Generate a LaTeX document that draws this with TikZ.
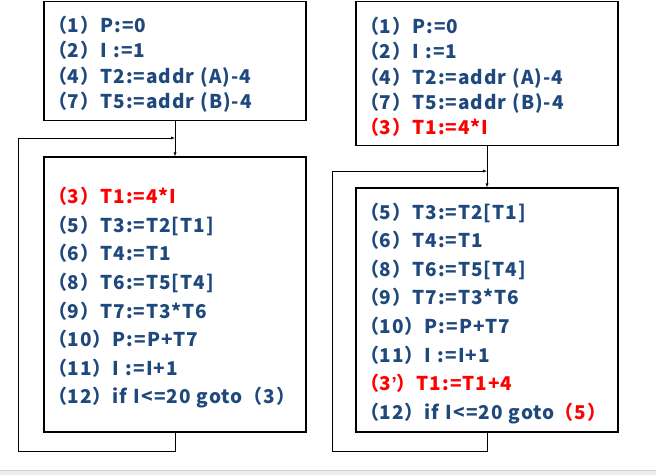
\documentclass[tikz,border=0pt]{standalone}
\usepackage{fontspec}
\usepackage{xcolor}
\newfontfamily\cjk{Noto Sans CJK SC}[LetterSpace=5]
\newfontfamily\latin{Liberation Sans}
\definecolor{codeblue}{RGB}{31,73,125}
\definecolor{codered}{RGB}{255,0,0}
\newcommand{\rd}[1]{\textcolor{codered}{#1}}

\begin{document}
\begin{tikzpicture}[x=1pt,y=-1pt,>=latex,
                    block/.style={draw,line width=1.1pt,minimum width=262pt,text width=254pt,
                                  inner xsep=4pt,align=left,text=codeblue,
                                  execute at begin node={\rule{0pt}{23pt}}},
                    topblock/.style={block,font=\cjk\bfseries\fontsize{19pt}{25.3pt}\selectfont},
                    loopblock/.style={block,font=\cjk\bfseries\fontsize{19pt}{28.6pt}\selectfont}]
\useasboundingbox (0,0) rectangle (656,475);
\fill[gray!15] (0,470) rectangle (656,475);
\draw[gray!35] (0,470) -- (656,470);
\node[topblock,minimum height=119pt] (init) at (175,61)
    {（1）P:=0\\（2）I :=1\\（4）T2:=addr (A)-4\\（7）T5:=addr (B)-4};
\node[loopblock,minimum height=275pt] (loop) at (175,294.5)
    {\rd{（3）T1:=4*I}\\（5）T3:=T2[T1]\\（6）T4:=T1\\（8）T6:=T5[T4]\\（9）T7:=T3*T6\\
     （10）P:=P+T7\\（11）I :=I+1\\（12）if I<=20 goto（3）};
\coordinate (loopin) at (175,138);
\draw[->] (init) -- (loop);
\draw[->] (loop.south) -- ++(0,19) -| (18,138) -- (loopin);
\node[topblock,minimum height=144pt] (initb) at (487,73.5)
    {（1）P:=0\\（2）I :=1\\（4）T2:=addr (A)-4\\（7）T5:=addr (B)-4\\\rd{（3）T1:=4*I}};
\node[loopblock,minimum height=244pt] (loopb) at (487,310)
    {（5）T3:=T2[T1]\\（6）T4:=T1\\（8）T6:=T5[T4]\\（9）T7:=T3*T6\\（10）P:=P+T7\\
     （11）I :=I+1\\\rd{（3{\latin’}）T1:=T1+4}\\（12）if I<=20 goto\rd{（5）}};
\coordinate (loopbin) at (487,171);
\draw[->] (initb) -- (loopb);
\draw[->] (loopb.south) -- ++(0,19) -| (332,171) -- (loopbin);
\end{tikzpicture}
\end{document}
